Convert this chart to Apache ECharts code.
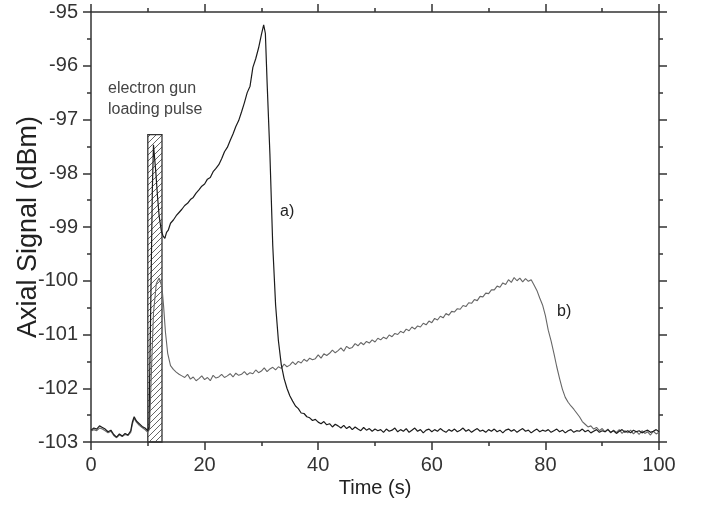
<!DOCTYPE html>
<html>
<head>
<meta charset="utf-8">
<script src="https://cdn.jsdelivr.net/npm/echarts@6/dist/echarts.min.js"></script>
<style>html,body{margin:0;padding:0;background:#fff}#c{width:704px;height:507px}</style>
</head>
<body>
<div id="c"></div>
<script>
// ---- data ----
var xTicks = [0, 20, 40, 60, 80, 100];
var yTicks = [-95, -96, -97, -98, -99, -100, -101, -102, -103];
// loading pulse window: [start time, end time, top value]
var pulseWindow = [[10.0, 12.5, -97.28]];

// curve a) [time (s), signal (dBm)]
var seriesA = [[0,-102.78],[0.5,-102.74],[1,-102.76],[1.5,-102.70],[2,-102.73],[2.5,-102.76],[3,-102.81],[3.5,-102.78],[4,-102.86],[4.5,-102.91],[5,-102.85],[5.5,-102.89],[6,-102.84],[6.5,-102.87],[7,-102.79],[7.3,-102.62],[7.6,-102.53],[8,-102.61],[8.5,-102.66],[9,-102.71],[9.5,-102.74],[10,-102.79],[10.2,-102.72],[10.5,-100.6],[10.8,-98.3],[11,-97.47],[11.2,-97.72],[11.4,-97.96],[11.7,-98.42],[12,-98.8],[12.4,-99.08],[12.7,-99.17],[13,-99.21],[13.3,-99.1],[13.6,-99.06],[14,-98.93],[14.5,-98.87],[15,-98.79],[15.5,-98.73],[16,-98.67],[16.5,-98.6],[17,-98.56],[17.5,-98.49],[18,-98.45],[18.5,-98.37],[19,-98.31],[19.5,-98.24],[20,-98.2],[20.5,-98.11],[21,-98.08],[21.5,-97.97],[22,-97.91],[22.5,-97.84],[23,-97.73],[23.5,-97.6],[24,-97.52],[24.5,-97.39],[25,-97.27],[25.5,-97.13],[26,-97.02],[26.5,-96.86],[27,-96.69],[27.5,-96.5],[28,-96.38],[28.5,-96.03],[29,-95.87],[29.5,-95.67],[30,-95.42],[30.4,-95.24],[30.7,-95.4],[31,-96.3],[31.5,-97.65],[32,-99.35],[32.5,-100.45],[33,-101.12],[33.5,-101.56],[34,-101.82],[34.5,-102.0],[35,-102.14],[35.5,-102.24],[36,-102.33],[36.5,-102.38],[37,-102.46],[37.5,-102.47],[38,-102.53],[38.5,-102.55],[39,-102.6],[39.5,-102.58],[40,-102.63],[40.5,-102.66],[41,-102.62],[41.5,-102.68],[42,-102.66],[42.5,-102.72],[43,-102.67],[43.5,-102.7],[44,-102.74],[44.5,-102.69],[45,-102.75],[45.5,-102.71],[46,-102.77],[46.5,-102.72],[47,-102.76],[47.5,-102.79],[48,-102.73],[48.5,-102.78],[49,-102.75],[49.5,-102.8],[50,-102.76],[50.5,-102.79],[51,-102.77],[51.5,-102.82],[52,-102.76],[52.5,-102.8],[53,-102.78],[53.5,-102.74],[54,-102.81],[54.5,-102.77],[55,-102.8],[55.5,-102.75],[56,-102.82],[56.5,-102.78],[57,-102.74],[57.5,-102.8],[58,-102.77],[58.5,-102.83],[59,-102.78],[59.5,-102.76],[60,-102.81],[60.5,-102.77],[61,-102.8],[61.5,-102.75],[62,-102.79],[62.5,-102.82],[63,-102.77],[63.5,-102.8],[64,-102.76],[64.5,-102.81],[65,-102.78],[65.5,-102.74],[66,-102.8],[66.5,-102.77],[67,-102.82],[67.5,-102.78],[68,-102.75],[68.5,-102.8],[69,-102.78],[69.5,-102.82],[70,-102.77],[70.5,-102.8],[71,-102.76],[71.5,-102.81],[72,-102.78],[72.5,-102.83],[73,-102.78],[73.5,-102.76],[74,-102.8],[74.5,-102.77],[75,-102.82],[75.5,-102.78],[76,-102.75],[76.5,-102.8],[77,-102.78],[77.5,-102.83],[78,-102.79],[78.5,-102.76],[79,-102.81],[79.5,-102.78],[80,-102.8],[80.5,-102.77],[81,-102.82],[81.5,-102.79],[82,-102.76],[82.5,-102.81],[83,-102.78],[83.5,-102.83],[84,-102.79],[84.5,-102.77],[85,-102.82],[85.5,-102.79],[86,-102.8],[86.5,-102.76],[87,-102.81],[87.5,-102.78],[88,-102.83],[88.5,-102.8],[89,-102.77],[89.5,-102.82],[90,-102.79],[90.5,-102.81],[91,-102.77],[91.5,-102.82],[92,-102.79],[92.5,-102.84],[93,-102.8],[93.5,-102.77],[94,-102.82],[94.5,-102.79],[95,-102.83],[95.5,-102.78],[96,-102.81],[96.5,-102.79],[97,-102.83],[97.5,-102.8],[98,-102.78],[98.5,-102.82],[99,-102.8],[99.5,-102.77],[100,-102.81]];

// curve b) [time (s), signal (dBm)]
var seriesB = [[0,-102.8],[0.5,-102.77],[1,-102.79],[1.5,-102.74],[2,-102.76],[2.5,-102.79],[3,-102.83],[3.5,-102.8],[4,-102.88],[4.5,-102.92],[5,-102.87],[5.5,-102.9],[6,-102.86],[6.5,-102.88],[7,-102.82],[7.3,-102.66],[7.6,-102.56],[8,-102.63],[8.5,-102.69],[9,-102.73],[9.5,-102.77],[10,-102.82],[10.3,-102.76],[10.6,-101.8],[11,-100.6],[11.5,-100.05],[12,-99.95],[12.5,-100.12],[12.8,-100.5],[13.1,-100.95],[13.5,-101.35],[14,-101.58],[14.5,-101.65],[15,-101.7],[15.5,-101.74],[16,-101.77],[16.5,-101.8],[17,-101.74],[17.5,-101.83],[18,-101.79],[18.5,-101.86],[19,-101.82],[19.5,-101.77],[20,-101.84],[20.5,-101.8],[21,-101.86],[21.5,-101.76],[22,-101.81],[22.5,-101.79],[23,-101.74],[23.5,-101.8],[24,-101.77],[24.5,-101.73],[25,-101.79],[25.5,-101.72],[26,-101.76],[26.5,-101.74],[27,-101.69],[27.5,-101.75],[28,-101.71],[28.5,-101.73],[29,-101.66],[29.5,-101.71],[30,-101.68],[30.5,-101.62],[31,-101.69],[31.5,-101.64],[32,-101.61],[32.5,-101.66],[33,-101.6],[33.5,-101.63],[34,-101.55],[34.5,-101.6],[35,-101.57],[35.5,-101.51],[36,-101.56],[36.5,-101.5],[37,-101.53],[37.5,-101.46],[38,-101.5],[38.5,-101.44],[39,-101.47],[39.5,-101.45],[40,-101.38],[40.5,-101.44],[41,-101.36],[41.5,-101.39],[42,-101.35],[42.5,-101.29],[43,-101.34],[43.5,-101.3],[44,-101.25],[44.5,-101.31],[45,-101.22],[45.5,-101.26],[46,-101.24],[46.5,-101.17],[47,-101.21],[47.5,-101.15],[48,-101.19],[48.5,-101.13],[49,-101.16],[49.5,-101.1],[50,-101.14],[50.5,-101.07],[51,-101.1],[51.5,-101.05],[52,-101.08],[52.5,-101.01],[53,-101.04],[53.5,-100.98],[54,-101.0],[54.5,-100.94],[55,-100.97],[55.5,-100.9],[56,-100.93],[56.5,-100.86],[57,-100.9],[57.5,-100.84],[58,-100.86],[58.5,-100.79],[59,-100.82],[59.5,-100.75],[60,-100.78],[60.5,-100.7],[61,-100.73],[61.5,-100.66],[62,-100.69],[62.5,-100.61],[63,-100.64],[63.5,-100.57],[64,-100.58],[64.5,-100.52],[65,-100.53],[65.5,-100.46],[66,-100.48],[66.5,-100.41],[67,-100.42],[67.5,-100.35],[68,-100.37],[68.5,-100.29],[69,-100.3],[69.5,-100.23],[70,-100.24],[70.5,-100.17],[71,-100.17],[71.5,-100.1],[72,-100.12],[72.5,-100.04],[73,-100.07],[73.5,-99.98],[74,-100.03],[74.5,-99.94],[75,-100.0],[75.5,-99.95],[76,-100.02],[76.5,-99.96],[77,-100.01],[77.5,-99.98],[78,-100.08],[78.5,-100.18],[79,-100.32],[79.5,-100.45],[80,-100.65],[80.5,-100.92],[81,-101.12],[81.5,-101.35],[82,-101.6],[82.5,-101.82],[83,-102.02],[83.5,-102.17],[84,-102.26],[84.5,-102.33],[85,-102.39],[85.5,-102.46],[86,-102.53],[86.5,-102.62],[87,-102.67],[87.5,-102.72],[88,-102.7],[88.5,-102.76],[89,-102.73],[89.5,-102.79],[90,-102.75],[90.5,-102.81],[91,-102.76],[91.5,-102.83],[92,-102.78],[92.5,-102.82],[93,-102.77],[93.5,-102.84],[94,-102.79],[94.5,-102.83],[95,-102.78],[95.5,-102.85],[96,-102.8],[96.5,-102.86],[97,-102.79],[97.5,-102.84],[98,-102.81],[98.5,-102.87],[99,-102.8],[99.5,-102.85],[100,-102.82]];

// ---- chart ----
var FONT = '"Liberation Sans", Arial, sans-serif';
var AX = '#333';
var chart = echarts.init(document.getElementById('c'), null, {renderer: 'canvas'});

function axisCommon() {
  return {
    axisLine: {show: true, onZero: false, lineStyle: {color: AX, width: 1.5}},
    axisTick: {show: true, inside: false, length: 8, lineStyle: {color: AX, width: 1.5}},
    minorTick: {show: true, splitNumber: 2, length: 4, lineStyle: {color: AX, width: 1.5}},
    splitLine: {show: false},
    minorSplitLine: {show: false}
  };
}

var xMin = xTicks[0], xMax = xTicks[xTicks.length - 1];
var yMax = yTicks[0], yMin = yTicks[yTicks.length - 1];

var option = {
  backgroundColor: '#fff',
  animation: false,
  grid: {left: 91, right: 45, top: 12, bottom: 65, containLabel: false, outerBoundsMode: 'none'},
  xAxis: [
    Object.assign(axisCommon(), {
      type: 'value', position: 'bottom', min: xMin, max: xMax, interval: 20,
      name: 'Time (s)', nameLocation: 'middle', nameGap: 36, nameMoveOverlap: false,
      nameTextStyle: {fontFamily: FONT, fontSize: 20, color: '#222'},
      axisLabel: {show: true, margin: 13, fontFamily: FONT, fontSize: 20, color: '#333'}
    }),
    Object.assign(axisCommon(), {
      type: 'value', position: 'top', min: xMin, max: xMax, interval: 20,
      axisLabel: {show: false}
    })
  ],
  yAxis: [
    Object.assign(axisCommon(), {
      type: 'value', position: 'left', min: yMin, max: yMax, interval: 1,
      name: 'Axial Signal (dBm)', nameLocation: 'middle', nameGap: 49, nameMoveOverlap: false,
      nameTextStyle: {fontFamily: FONT, fontSize: 27, color: '#222'},
      axisLabel: {show: true, margin: 13, fontFamily: FONT, fontSize: 20, color: '#333'}
    }),
    Object.assign(axisCommon(), {
      type: 'value', position: 'right', min: yMin, max: yMax, interval: 1,
      axisLabel: {show: false}
    })
  ],
  series: [
    {
      type: 'custom', xAxisIndex: 0, yAxisIndex: 0, z: 1,
      data: pulseWindow,
      renderItem: function (params, api) {
        var p0 = api.coord([api.value(0), api.value(2)]);
        var p1 = api.coord([api.value(1), yMin]);
        var x0 = p0[0], y0 = p0[1], x1 = p1[0], y1 = p1[1];
        var w = x1 - x0, h = y1 - y0;
        var children = [];
        var step = 6;
        for (var c = -w + 1; c < h; c += step) {
          var u0 = Math.max(0, -c), u1 = Math.min(w, h - c);
          if (u1 <= u0) continue;
          children.push({type: 'line', shape: {x1: x0 + u0, y1: y1 - (u0 + c), x2: x0 + u1, y2: y1 - (u1 + c)},
            style: {stroke: '#555', lineWidth: 0.9}});
        }
        children.push({type: 'rect', shape: {x: x0, y: y0, width: w, height: h},
          style: {fill: null, stroke: '#333', lineWidth: 1.3}});
        return {type: 'group', children: children};
      }
    },
    {
      type: 'line', name: 'b)', data: seriesB, showSymbol: false, symbol: 'none', z: 2,
      lineStyle: {color: '#666', width: 1.1}
    },
    {
      type: 'line', name: 'a)', data: seriesA, showSymbol: false, symbol: 'none', z: 3,
      lineStyle: {color: '#1c1c1c', width: 1.2}
    }
  ],
  graphic: [
    {type: 'text', left: 108, top: 81, style: {text: 'electron gun', font: '16px ' + FONT, fill: '#444'}},
    {type: 'text', left: 108, top: 102, style: {text: 'loading pulse', font: '16px ' + FONT, fill: '#444'}},
    {type: 'text', left: 280, top: 204, style: {text: 'a)', font: '16px ' + FONT, fill: '#222'}},
    {type: 'text', left: 557, top: 304, style: {text: 'b)', font: '16px ' + FONT, fill: '#222'}}
  ]
};
chart.setOption(option);
</script>
</body>
</html>
